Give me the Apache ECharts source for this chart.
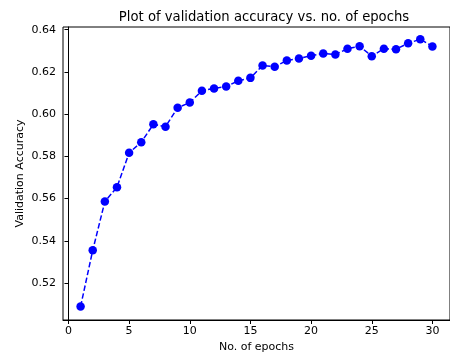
<!DOCTYPE html>
<html><head><meta charset="utf-8">
<script src="https://cdn.jsdelivr.net/npm/echarts@6/dist/echarts.min.js"></script>
<style>html,body{margin:0;padding:0;background:#fff}#c{width:450px;height:358px}</style>
</head><body><div id="c"></div>
<script>
const epochs = [1,2,3,4,5,6,7,8,9,10,11,12,13,14,15,16,17,18,19,20,21,22,23,24,25,26,27,28,29,30];
const accuracy = [0.5089,0.5355,0.5586,0.5654,0.5817,0.5867,0.5952,0.5941,0.6031,0.6055,0.6111,0.6122,0.6131,0.6158,0.6172,0.6231,0.6225,0.6254,0.6264,0.6277,0.6288,0.6283,0.6310,0.6322,0.6275,0.6310,0.6308,0.6336,0.6355,0.6321];
const xTicks = [0,5,10,15,20,25,30];
const yTicks = [0.52,0.54,0.56,0.58,0.60,0.62,0.64];
const font = 'DejaVu Sans';
const chart = echarts.init(document.getElementById('c'), null, {renderer:'canvas'});
chart.setOption({
  animation:false,
  title:{text:'Plot of validation accuracy vs. no. of epochs', left:259, textAlign:'center', top:6,
    textStyle:{fontFamily:font, fontSize:13.2, fontWeight:'normal', color:'#000'}},
  grid:{left:63, top:27, right:-6, bottom:38, show:true, borderColor:'#000', borderWidth:1, containLabel:false},
  xAxis:{type:'value', min:-0.45, max:31.45,
    name:'No. of epochs', nameLocation:'middle', nameGap:22, nameMoveOverlap:false,
    nameTextStyle:{fontFamily:font, fontSize:11, color:'#000'},
    axisLine:{show:true, lineStyle:{color:'#000'}},
    axisTick:{show:true, length:4, customValues:xTicks, lineStyle:{color:'#000'}},
    axisLabel:{customValues:xTicks, margin:6, fontFamily:font, fontSize:11, color:'#000', formatter:v=>String(v)},
    splitLine:{show:false}},
  yAxis:{type:'value', min:0.5025, max:0.6413,
    name:'Validation Accuracy', nameLocation:'middle', nameGap:37, nameMoveOverlap:false,
    nameTextStyle:{fontFamily:font, fontSize:11, color:'#000'},
    axisLine:{show:true, lineStyle:{color:'#000'}},
    axisTick:{show:true, length:4, customValues:yTicks, lineStyle:{color:'#000'}},
    axisLabel:{customValues:yTicks, margin:7, fontFamily:font, fontSize:11, color:'#000', formatter:v=>v.toFixed(2)},
    splitLine:{show:false}},
  series:[{type:'line', data:epochs.map((e,i)=>[e,accuracy[i]]),
    symbol:'circle', symbolSize:8.5, showSymbol:true,
    lineStyle:{color:'#0000ff', width:1.5, type:[5.5,2.5]},
    itemStyle:{color:'#0000ff'}}]
});
</script></body></html>
